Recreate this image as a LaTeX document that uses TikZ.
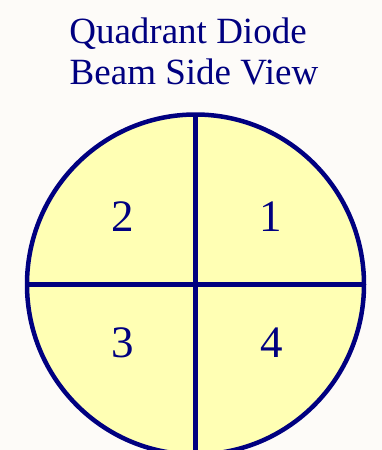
\documentclass[tikz,border=0pt]{standalone}
\usepackage{fontspec}
\setmainfont{Liberation Serif}
\definecolor{navy}{HTML}{000080}
\definecolor{pale}{HTML}{FFFFB4}
\definecolor{bg}{HTML}{FDFBF8}
\begin{document}
\begin{tikzpicture}[x=1pt,y=-1pt,
  title/.style={text=navy,font=\fontsize{37}{44}\selectfont,anchor=base,inner sep=0pt},
  qlabel/.style={text=navy,font=\fontsize{45}{50}\selectfont,anchor=base,inner sep=0pt},
  rim/.style={draw=navy,line width=4.5pt}]
\fill[bg] (0,0) rectangle (382,450);
\useasboundingbox (0,0) rectangle (382,450);
\clip (0,0) rectangle (382,450);
\node[title] (t1) at (188,43) {Quadrant Diode};
\node[title] (t2) at (194,84) {Beam Side View};
\coordinate (c) at (195.5,284.5);
\fill[pale] (c) ellipse [x radius=168.5, y radius=170];
\coordinate (top) at (195.5,114.5);
\coordinate (bot) at (195.5,460);
\coordinate (lft) at (27,284.5);
\coordinate (rgt) at (364,284.5);
\draw[rim] (top) -- (bot);
\draw[rim] (lft) -- (rgt);
\draw[rim] (c) ellipse [x radius=168.5, y radius=170];
\node[qlabel] (q2) at (122.5,231) {2};
\node[qlabel] (q1) at (271,231) {1};
\node[qlabel] (q3) at (122.5,357) {3};
\node[qlabel] (q4) at (271.5,357) {4};
\end{tikzpicture}
\end{document}
